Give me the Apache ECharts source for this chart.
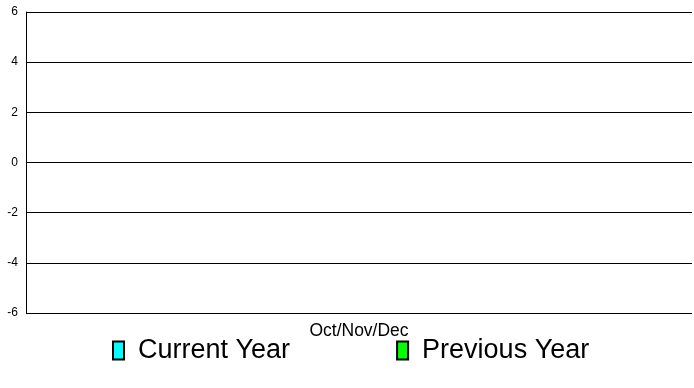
<!DOCTYPE html>
<html>
<head>
<meta charset="UTF-8">
<title>Quarter</title>
<style type="text/css">
    html,body{padding:0; margin:0; background:#fff;}
    #main{width:694px; height:388px;}
</style>
<script src="https://cdn.jsdelivr.net/npm/echarts@6/dist/echarts.min.js"></script>
</head>
<body>
<div id="main"></div>
<script type="text/javascript">
    var categories = ['Oct/Nov/Dec'];
    var currentYear = [0];
    var previousYear = [0];

    var myChart = echarts.init(document.getElementById('main'));
    var option = {
        animation: false,
        textStyle: {fontFamily: 'Liberation Sans, Arial, sans-serif'},
        grid: {left: 26, right: 2, top: 12, bottom: 75},
        legend: {
            top: 332,
            left: 107,
            itemGap: 106,
            itemWidth: 11,
            itemHeight: 18,
            icon: 'rect',
            itemStyle: {borderColor: '#000', borderWidth: 2},
            textStyle: {fontSize: 27, color: '#000', padding: [2, 0, 0, 9]},
            data: ['Current Year', 'Previous Year']
        },
        xAxis: {
            type: 'category',
            data: categories,
            axisLine: {show: false},
            axisTick: {show: false},
            axisLabel: {color: '#000', fontSize: 17.5, margin: 9}
        },
        yAxis: {
            type: 'value',
            min: -6,
            max: 6,
            interval: 2,
            axisLine: {show: true, lineStyle: {color: '#000', width: 1}},
            axisTick: {show: false},
            axisLabel: {color: '#000', fontSize: 12, margin: 8},
            splitLine: {show: true, lineStyle: {color: '#000', width: 1}}
        },
        series: [
            {
                name: 'Current Year',
                type: 'bar',
                data: currentYear,
                itemStyle: {color: '#00ffff', borderWidth: 0}
            },
            {
                name: 'Previous Year',
                type: 'bar',
                data: previousYear,
                itemStyle: {color: '#00ff00', borderWidth: 0}
            }
        ]
    };
    myChart.setOption(option);
</script>
</body>
</html>
